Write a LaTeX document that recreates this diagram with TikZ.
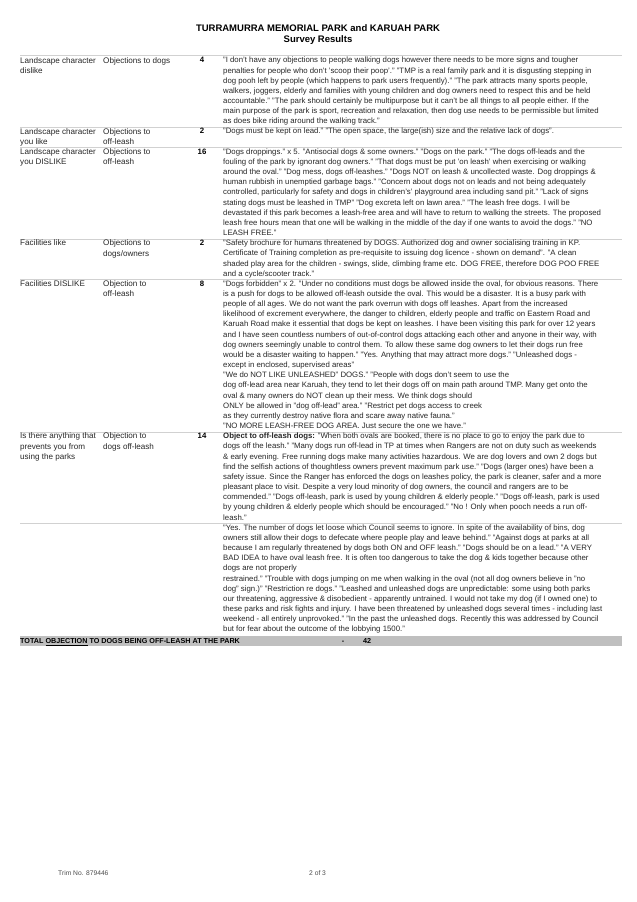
\documentclass[tikz,border=0pt]{standalone}
\usepackage{fontspec}
\setmainfont{Liberation Sans}
\begin{document}
\begin{tikzpicture}[x=1pt,y=-1pt,
  txt/.style={anchor=north west,inner sep=0pt,align=left,font=\fontsize{7.8}{10.16}\selectfont,text=black!85},
  lab/.style={anchor=north west,inner sep=0pt,align=left,font=\fontsize{8.1}{10.16}\selectfont,text=black!85},
  num/.style={anchor=north,inner sep=0pt,font=\fontsize{7.8}{10.16}\selectfont\bfseries},
  rule/.style={draw=black!18,line width=0.6pt}]
\useasboundingbox (0,0) rectangle (637,902);
\node[anchor=base,font=\fontsize{9.5}{11}\selectfont\bfseries,inner sep=0] (t1) at (318,31) {TURRAMURRA MEMORIAL PARK and KARUAH PARK};
\node[anchor=base,font=\fontsize{9.5}{11}\selectfont\bfseries,inner sep=0] (t2) at (318,42) {Survey Results};
\draw[rule] (20,55.5) -- (622,55.5);
% row 1
\def\ya{57}
\node[lab] (a1) at (20,\ya) {Landscape character\\dislike};
\node[lab] (a2) at (103,\ya) {Objections to dogs};
\node[num] (a3) at (202,\ya) {4};
\node[txt] (a4) at (223,\ya) {"I don't have any objections to people walking dogs however there needs to be more signs and tougher\\penalties for people who don't 'scoop their poop'."  "TMP is a real family park and it is disgusting stepping in\\dog pooh left by people (which happens to park users frequently)."  "The park attracts many sports people,\\walkers, joggers, elderly and families with young children and  dog owners need to respect this and be held\\accountable."  "The park should certainly  be multipurpose but it can't be all things to all people either.  If the\\main purpose  of the park is sport, recreation and relaxation, then dog use needs to be permissible but limited\\as does bike riding around the walking track."};
\draw[rule] (20,127.3) -- (622,127.3);
% row 2
\def\yb{128.1}
\node[lab] (b1) at (20,\yb) {Landscape character\\you like};
\node[lab] (b2) at (103,\yb) {Objections to\\off-leash};
\node[num] (b3) at (202,\yb) {2};
\node[txt] (b4) at (223,\yb) {"Dogs must be kept on lead."  "The open space, the large(ish) size and the relative lack of dogs".};
\draw[rule] (20,147.6) -- (622,147.6);
% row 3
\def\yc{148.4}
\node[lab] (c1) at (20,\yc) {Landscape character\\you DISLIKE};
\node[lab] (c2) at (103,\yc) {Objections to\\off-leash};
\node[num] (c3) at (202,\yc) {16};
\node[txt] (c4) at (223,\yc) {"Dogs droppings."  x 5.  "Antisocial dogs \& some owners."  "Dogs on the park."  "The dogs off-leads and the\\fouling of the park by ignorant dog owners."  "That dogs must be put 'on leash' when exercising or walking\\around the oval." "Dog mess, dogs off-leashes."  "Dogs NOT on leash \& uncollected waste.  Dog droppings \&\\human rubbish in unemptied garbage bags."  "Concern about dogs not on leads and not being adequately\\controlled, particularly for safety and dogs in children's' playground area including sand pit."  "Lack of signs\\stating dogs must be leashed in TMP"  "Dog excreta left on lawn area."  "The leash free dogs.  I will be\\devastated if this park becomes a leash-free area and will have to return to walking the streets.  The proposed\\leash free hours mean that one will be walking in the middle of the day if one wants to avoid the dogs."  "NO\\LEASH FREE."};
\draw[rule] (20,239.1) -- (622,239.1);
% row 4
\def\yd{239.9}
\node[lab] (d1) at (20,\yd) {Facilities like};
\node[lab] (d2) at (103,\yd) {Objections to\\dogs/owners};
\node[num] (d3) at (202,\yd) {2};
\node[txt] (d4) at (223,\yd) {"Safety brochure for humans threatened by DOGS.  Authorized dog and owner socialising training in KP.\\Certificate of Training completion as pre-requisite to issuing dog licence - shown on demand".  "A clean\\shaded play area for the children - swings, slide, climbing frame etc. DOG FREE, therefore DOG POO FREE\\and a cycle/scooter track."};
\draw[rule] (20,279.7) -- (622,279.7);
% row 5
\def\ye{280.5}
\node[lab] (e1) at (20,\ye) {Facilities DISLIKE};
\node[lab] (e2) at (103,\ye) {Objection to\\off-leash};
\node[num] (e3) at (202,\ye) {8};
\node[txt] (e4) at (223,\ye) {"Dogs forbidden" x 2.  "Under no conditions must dogs be allowed inside the oval, for obvious reasons.  There\\is a push for  dogs to be allowed off-leash outside the oval.  This would be a disaster. It is a busy park with\\people of all ages.  We do not want the park overrun with dogs off leashes.  Apart from the increased\\likelihood of excrement everywhere, the danger to children, elderly people and traffic on Eastern Road and\\Karuah Road make it essential that dogs be kept on leashes.  I have been visiting this park for over 12 years\\and I have seen countless numbers of out-of-control dogs attacking each other and anyone in their way, with\\dog owners seemingly unable to control them.  To allow these same dog owners to let their dogs run free\\would be a disaster waiting to happen." "Yes.  Anything that may attract more dogs."  "Unleashed dogs -\\except in enclosed, supervised areas"\\"We do NOT LIKE UNLEASHED" DOGS."  "People with dogs don't seem to use the\\dog off-lead area near Karuah, they tend to let their dogs off on main path around TMP.  Many get onto the\\oval \& many owners do NOT clean up their mess.  We think dogs should\\ONLY be allowed in "dog off-lead" area."  "Restrict pet dogs access to creek\\as they currently destroy native flora and scare away native fauna."\\"NO MORE LEASH-FREE DOG AREA.  Just secure the one we have."};
\draw[rule] (20,432.1) -- (622,432.1);
% row 6
\def\yf{432.9}
\node[lab] (f1) at (20,\yf) {Is there anything that\\prevents you from\\using the parks};
\node[lab] (f2) at (103,\yf) {Objection to\\dogs off-leash};
\node[num] (f3) at (202,\yf) {14};
\node[txt] (f4) at (223,\yf) {\textbf{Object to off-leash dogs:}  "When both ovals are booked, there is no place to go to enjoy the park due to\\dogs off the leash."  "Many dogs run off-lead in TP at times when Rangers are not on duty such as weekends\\\& early evening.  Free running dogs make many activities hazardous.  We are dog lovers and own 2 dogs but\\find the selfish actions of thoughtless owners prevent maximum park use."  "Dogs (larger ones) have been a\\safety issue.  Since the Ranger has enforced the dogs on leashes policy, the park is cleaner, safer and a more\\pleasant place to visit.  Despite a very loud minority of dog owners, the council and rangers are to be\\commended."  "Dogs off-leash, park is used by young children \& elderly people."  "Dogs off-leash, park is used\\by young children \& elderly people which should be encouraged."  "No ! Only when pooch needs a run off-\\leash."};
\draw[rule] (20,523.6) -- (622,523.6);
% row 7
\def\yg{524.4}
\node[txt] (g4) at (223,\yg) {"Yes.  The number of dogs let loose which Council seems to ignore.  In spite of the availability of bins, dog\\owners still allow their dogs to defecate where people  play and leave behind."  "Against dogs at parks at all\\because I am regularly threatened by dogs both ON and OFF leash."  "Dogs should be on a lead."  "A VERY\\BAD IDEA to have oval leash free. It is often too dangerous to take the dog \& kids together because other\\dogs are not properly\\restrained."  "Trouble with dogs jumping on me when walking in the oval (not all dog owners believe in "no\\dog" sign.)"  "Restriction re dogs."  "Leashed and unleashed dogs are unpredictable:  some using both parks\\our threatening, aggressive \& disobedient - apparently untrained.  I would not take my dog (if I owned one) to\\these parks and risk fights and injury.  I have been threatened by unleashed dogs several times - including last\\weekend - all entirely unprovoked."  "In the past the unleashed dogs. Recently this was addressed by Council\\but for fear about the outcome of the lobbying 1500."};
% total bar
\fill[black!25] (20,635.5) rectangle (622,646) ;
\node[anchor=base west,inner sep=0,font=\fontsize{7.2}{8}\selectfont\bfseries] (tot) at (20,643.7) {TOTAL \underline{OBJECTION} TO DOGS BEING OFF-LEASH AT THE PARK};
\node[anchor=base,inner sep=0,font=\fontsize{7.2}{8}\selectfont\bfseries] (dash) at (343,643.7) {-};
\node[anchor=base west,inner sep=0,font=\fontsize{7.2}{8}\selectfont\bfseries] (n42) at (363,643.7) {42};
% footer
\node[anchor=base west,inner sep=0,font=\fontsize{6.7}{8}\selectfont,text=black!70] (trim) at (58,875) {Trim No. 879446};
\node[anchor=base west,inner sep=0,font=\fontsize{6.7}{8}\selectfont,text=black!70] (pg) at (309,875) {2 of 3};
\end{tikzpicture}
\end{document}
